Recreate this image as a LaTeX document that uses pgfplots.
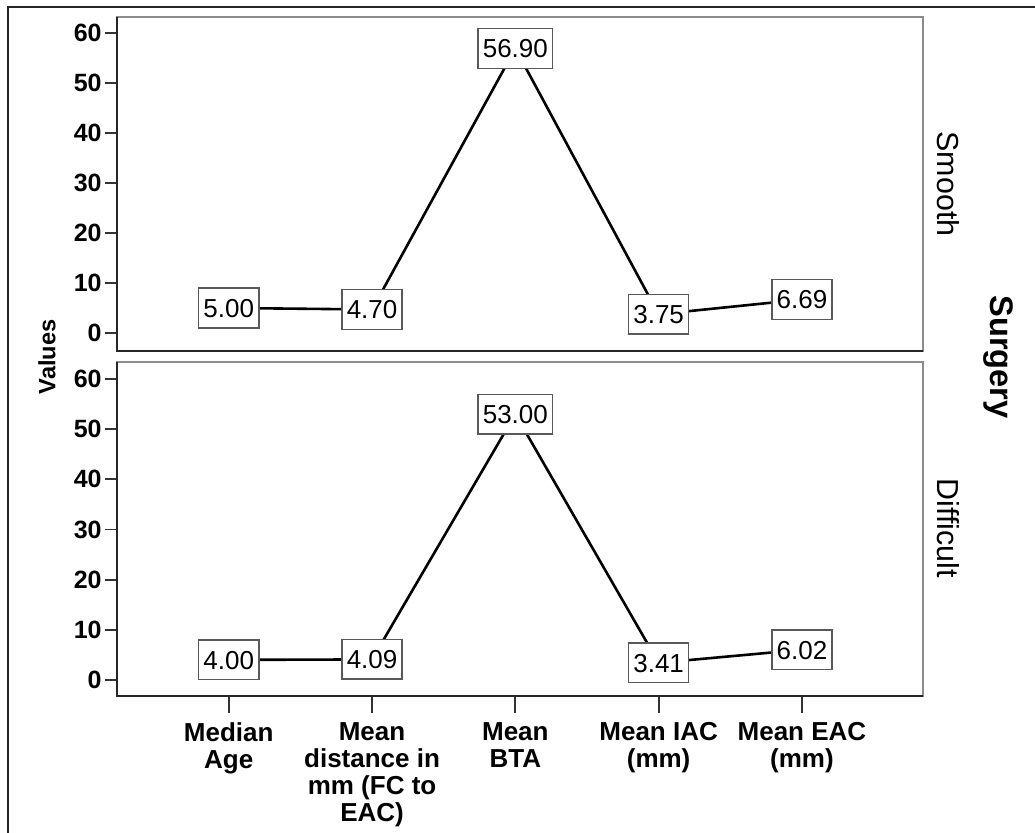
\documentclass[border=0pt]{standalone}
\usepackage{fontspec}
\setmainfont{Liberation Sans}
\usepackage{pgfplots}
\pgfplotsset{compat=1.18}

\begin{document}
\begin{tikzpicture}
\pgfplotsset{
  panel/.style={
    scale only axis, width=403pt, height=167pt,
    xmin=-0.78, xmax=4.845,
    ytick={0,10,...,60},
    ytick pos=left, tick align=outside,
    axis line style={draw=black!45, line width=1pt},
    major tick length=6pt,
    tick style={draw=black!80, line width=0.9pt},
    yticklabel style={font=\fontsize{12.5}{14}\selectfont\bfseries, inner sep=1.5pt},
    /pgf/number format/assume math mode=true,
    clip=false,
    point meta=y,
    nodes near coords={\pgfmathprintnumber[fixed,fixed zerofill,precision=2]{\pgfplotspointmeta}},
    nodes near coords style={anchor=center, draw=black!65, fill=white, text=black, line width=0.75pt,
      font=\fontsize{13}{15}\selectfont, text height=9.4pt, text depth=0pt,
      inner xsep=2.4pt, inner ysep=5.2pt},
  },
  dataline/.style={black, line width=1.3pt, mark=none},
}
\useasboundingbox (0,0) rectangle (517.5pt,416.5pt);
\draw[black!85, line width=1.2pt] (4pt,0) -- (4pt,413pt) -- (517.5pt,413pt);

% Smooth
\begin{axis}[panel, at={(58.5pt,241pt)}, anchor=south west,
    ymin=-3.6, ymax=63.2, xtick=\empty]
\addplot[dataline] coordinates {(0,5.00) (1,4.70) (2,56.90) (3,3.75) (4,6.69)};
\draw[black!85, line width=1pt] (rel axis cs:0,1) -- (rel axis cs:0,0) -- (rel axis cs:1,0);
\end{axis}

% Difficult
\begin{axis}[panel, at={(58.5pt,68.5pt)}, anchor=south west,
    ymin=-3.2, ymax=63.4,
    xtick={0,1,2,3,4}, xtick pos=bottom,
    xtick style={/pgfplots/major tick length=8.5pt},
    xticklabels={Median\\Age, Mean\\distance in\\mm (FC to\\EAC), Mean\\BTA, Mean IAC\\(mm), Mean EAC\\(mm)},
    xticklabel style={align=center, font=\fontsize{13}{13.5}\selectfont\bfseries, inner sep=2pt, yshift=-5pt}]
\addplot[dataline] coordinates {(0,4.00) (1,4.09) (2,53.00) (3,3.41) (4,6.02)};
\draw[black!85, line width=1pt] (rel axis cs:0,1) -- (rel axis cs:0,0) -- (rel axis cs:1,0);
\end{axis}

\node[rotate=90, font=\fontsize{11.8}{13}\selectfont\bfseries] at (23.5pt,238pt) {Values};
\node[rotate=-90, font=\fontsize{15.2}{17}\selectfont] at (474pt,324.5pt) {Smooth};
\node[rotate=-90, font=\fontsize{15.2}{17}\selectfont] at (474pt,152.25pt) {Difficult};
\node[rotate=-90, font=\fontsize{16.3}{18}\selectfont\bfseries] at (499pt,238pt) {Surgery};
\end{tikzpicture}
\end{document}
